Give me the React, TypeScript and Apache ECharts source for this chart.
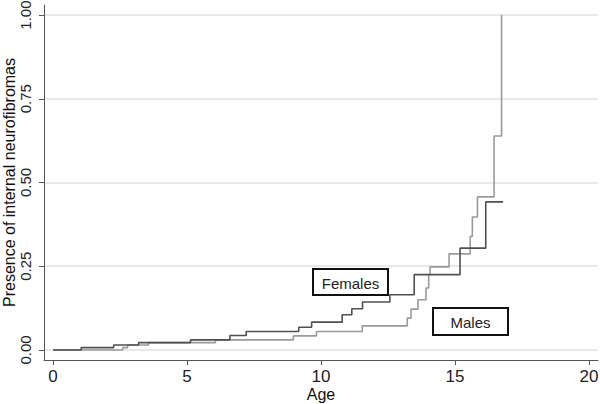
import React, { useEffect, useRef } from "react";
import * as echarts from "echarts";

const femalesAge = [0, 1.05, 2.26, 3.19, 5.13, 6.6, 7.21, 9.17, 9.65, 10.79, 11.15, 11.55, 12.57, 13.48, 15.19, 16.15, 16.8];
const femalesPresence = [0, 0.007, 0.015, 0.022, 0.03, 0.043, 0.055, 0.068, 0.083, 0.105, 0.123, 0.143, 0.165, 0.225, 0.304, 0.442, 0.442];

const malesAge = [0, 2.6, 2.78, 3.56, 6.06, 8.97, 9.83, 11.54, 13.22, 13.36, 13.62, 13.92, 14.02, 14.07, 14.78, 15.57, 15.65, 15.84, 16.46, 16.74];
const malesPresence = [0, 0.007, 0.015, 0.022, 0.03, 0.042, 0.055, 0.072, 0.095, 0.122, 0.15, 0.185, 0.225, 0.248, 0.287, 0.339, 0.397, 0.457, 0.639, 1.0];

const xTicks = [0, 5, 10, 15, 20];
const yTicks = [0, 0.25, 0.5, 0.75, 1];

const seriesNames = ["Females", "Males"];

export default function App() {
  const ref = useRef<HTMLDivElement>(null);

  useEffect(() => {
    if (!ref.current) return;
    const chart = echarts.init(ref.current, null, { renderer: "svg" });
    const font = "'Liberation Sans', Arial, sans-serif";
    const femalesData = femalesAge.map((a, i) => [a, femalesPresence[i]]);
    const malesData = malesAge.map((a, i) => [a, malesPresence[i]]);

    const boxText = (label: string, x: number, y: number, w: number, h: number) => ({
      type: "group",
      x,
      y,
      children: [
        {
          type: "rect",
          shape: { x: 0, y: 0, width: w, height: h },
          style: { fill: "#ffffff", stroke: "#111111", lineWidth: 2 },
        },
        {
          type: "text",
          x: w / 2,
          y: h / 2 + 1,
          style: {
            text: label,
            font: "15px 'Liberation Sans', Arial, sans-serif",
            fill: "#222222",
            align: "center",
            verticalAlign: "middle",
          },
        },
      ],
    });

    chart.setOption({
      animation: false,
      backgroundColor: "#ffffff",
      grid: { left: 44, right: 2, top: 5, bottom: 44, containLabel: false, outerBoundsMode: "none" },
      xAxis: {
        type: "value",
        min: -0.34,
        max: 20.34,
        name: "Age",
        nameLocation: "middle",
        nameGap: 26,
        nameMoveOverlap: false,
        nameTextStyle: { fontFamily: font, fontSize: 16, color: "#111" },
        axisLine: { onZero: false, lineStyle: { color: "#555", width: 1 } },
        axisTick: { show: true, length: 5, customValues: xTicks, lineStyle: { color: "#555" } },
        axisLabel: {
          customValues: xTicks,
          margin: 8,
          fontFamily: font,
          fontSize: 17,
          color: "#222",
        },
        splitLine: { show: false },
      },
      yAxis: {
        type: "value",
        min: -0.03,
        max: 1.03,
        name: "Presence of internal neurofibromas",
        nameLocation: "middle",
        nameRotate: 90,
        nameGap: 27,
        nameMoveOverlap: false,
        nameTextStyle: { fontFamily: font, fontSize: 16, color: "#111" },
        axisLine: { show: true, onZero: false, lineStyle: { color: "#555", width: 1 } },
        axisTick: { show: true, length: 5, customValues: yTicks, lineStyle: { color: "#555" } },
        axisLabel: {
          customValues: yTicks,
          rotate: 90,
          margin: 11,
          fontFamily: font,
          fontSize: 15,
          color: "#222",
          formatter: (v: number) => v.toFixed(2),
        },
        splitLine: { show: true, lineStyle: { color: "#e2e2e2", width: 1.5 } },
      },
      series: [
        {
          name: seriesNames[0],
          type: "line",
          step: "end",
          data: femalesData,
          showSymbol: false,
          symbol: "none",
          lineStyle: { color: "#505050", width: 1.6 },
          z: 3,
        },
        {
          name: seriesNames[1],
          type: "line",
          step: "end",
          data: malesData,
          showSymbol: false,
          symbol: "none",
          lineStyle: { color: "#9a9a9a", width: 1.6 },
          z: 2,
        },
      ],
      graphic: [boxText(seriesNames[0], 313, 269, 75, 26), boxText(seriesNames[1], 433, 308, 75, 27)],
    });
    return () => chart.dispose();
  }, []);

  return (
    <div
      ref={ref}
      style={{ position: "fixed", left: 0, top: 0, width: 600, height: 404, background: "#fff" }}
    />
  );
}
